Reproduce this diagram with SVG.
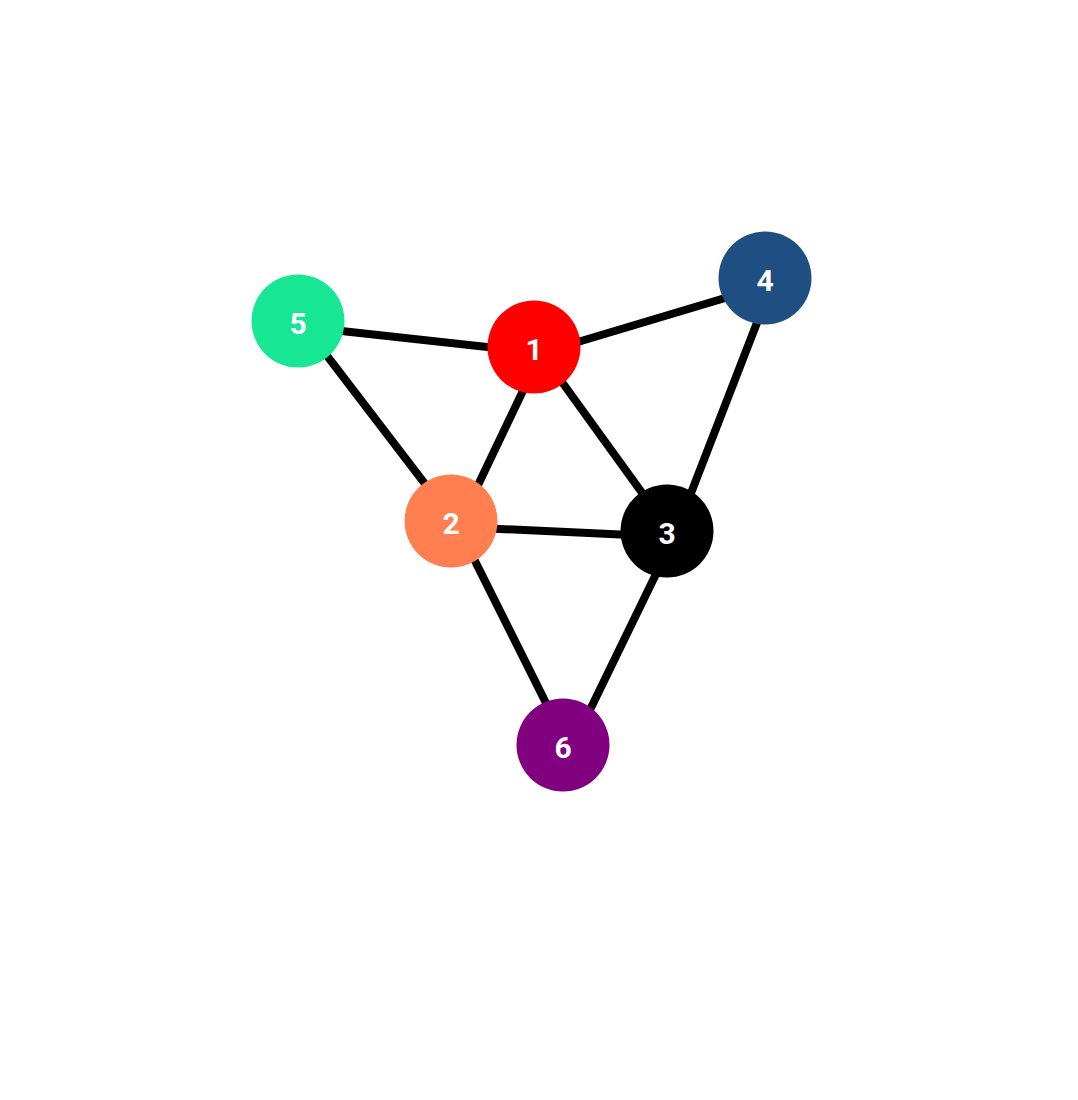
<svg xmlns="http://www.w3.org/2000/svg" width="1078" height="1100" viewBox="0 0 1078 1100">
<style>
.edge{stroke:#000;stroke-width:8;fill:none}
.node text{font-family:Roboto,"Liberation Sans",sans-serif;font-weight:bold;font-size:30px;fill:#fff;text-anchor:middle;dominant-baseline:central}
</style>
<rect width="1078" height="1100" fill="#fff"/>
<g id="edges" transform="translate(7,6)">
<line class="edge" x1="534" y1="347" x2="298" y2="321"/>
<line class="edge" x1="534" y1="347" x2="765" y2="278"/>
<line class="edge" x1="534" y1="347" x2="451" y2="521"/>
<line class="edge" x1="534" y1="347" x2="667" y2="531"/>
<line class="edge" x1="451" y1="521" x2="298" y2="321"/>
<line class="edge" x1="451" y1="521" x2="667" y2="531"/>
<line class="edge" x1="451" y1="521" x2="563" y2="745"/>
<line class="edge" x1="667" y1="531" x2="765" y2="278"/>
<line class="edge" x1="667" y1="531" x2="563" y2="745"/>
</g>
<g id="node1" class="node"><circle cx="534" cy="347" r="46.5" fill="#ff0000"/><text x="534" y="349">1</text></g>
<g id="node2" class="node"><circle cx="451" cy="521" r="46.5" fill="#ff7f50"/><text x="451" y="523">2</text></g>
<g id="node3" class="node"><circle cx="667" cy="531" r="46.5" fill="#000000"/><text x="667" y="533">3</text></g>
<g id="node4" class="node"><circle cx="765" cy="278" r="46.5" fill="#1f4e82"/><text x="765" y="280">4</text></g>
<g id="node5" class="node"><circle cx="298" cy="321" r="46.5" fill="#17e694"/><text x="298" y="323">5</text></g>
<g id="node6" class="node"><circle cx="563" cy="745" r="46.5" fill="#800080"/><text x="563" y="747">6</text></g>
</svg>
